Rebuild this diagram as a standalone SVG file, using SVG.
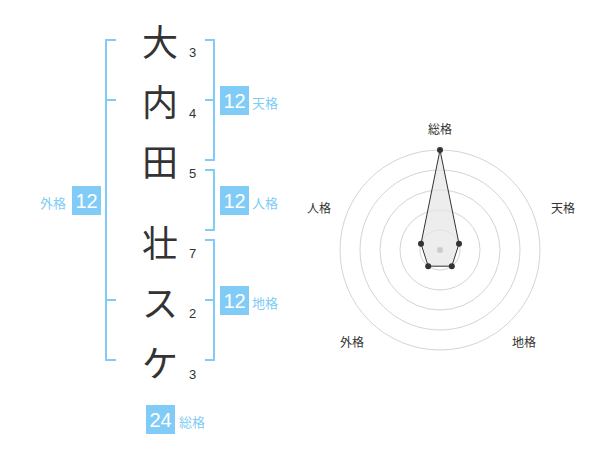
<svg xmlns="http://www.w3.org/2000/svg" width="600" height="470" viewBox="0 0 600 470">
<style>
.ch{font-family:"Noto Sans CJK JP","Noto Sans CJK SC",sans-serif;font-size:36px;fill:#333;text-anchor:middle}
.num{font-family:"Liberation Sans",Arial,sans-serif;font-size:13px;fill:#333}
.br{fill:none;stroke:#80ccf6;stroke-width:2}
.box{fill:#80ccf6}
.bn{font-family:"Liberation Sans",Arial,sans-serif;font-size:20px;fill:#fff;text-anchor:middle}
.bl{font-family:"Noto Sans CJK JP",sans-serif;font-size:13px;fill:#80ccf6}
.ring{fill:none;stroke:#d4d4d4;stroke-width:1}
.rl{font-family:"Noto Sans CJK JP",sans-serif;font-size:12px;fill:#333;text-anchor:middle}
.dot{fill:#333}
</style>
<rect width="600" height="470" fill="#fff"/>
<g id="chars">
<text class="ch" x="160" y="56">大</text>
<text class="ch" x="160" y="116">内</text>
<text class="ch" x="160" y="176">田</text>
<text class="ch" x="160" y="257">壮</text>
<text class="ch" x="160" y="317">ス</text>
<text class="ch" x="160" y="377">ケ</text>
</g>
<g id="numbers">
<text class="num" x="189" y="57">3</text>
<text class="num" x="189" y="118">4</text>
<text class="num" x="189" y="178">5</text>
<text class="num" x="189" y="258">7</text>
<text class="num" x="189" y="318">2</text>
<text class="num" x="189" y="379">3</text>
</g>
<g id="connectors">
<path class="br" d="M116,40 H106 V360 H116 M106,100 H116 M106,300 H116"/>
<path class="br" d="M205,40 H214 V160 H205 M205,100 H214"/>
<path class="br" d="M205,170 H214 V230 H205"/>
<path class="br" d="M205,240 H214 V360 H205 M205,300 H214"/>
</g>
<g id="tenkaku">
<rect class="box" x="220" y="86" width="29" height="29"/>
<text class="bn" x="234.5" y="108">12</text>
<text class="bl" x="252" y="108">天格</text>
</g>
<g id="jinkaku">
<rect class="box" x="220" y="186" width="29" height="29"/>
<text class="bn" x="234.5" y="208">12</text>
<text class="bl" x="252" y="208">人格</text>
</g>
<g id="chikaku">
<rect class="box" x="220" y="286" width="29" height="29"/>
<text class="bn" x="234.5" y="308">12</text>
<text class="bl" x="252" y="308">地格</text>
</g>
<g id="gaikaku">
<rect class="box" x="72" y="186" width="29" height="29"/>
<text class="bn" x="86.5" y="208">12</text>
<text class="bl" x="40" y="208">外格</text>
</g>
<g id="soukaku">
<rect class="box" x="146" y="405" width="29" height="29"/>
<text class="bn" x="160.5" y="427">24</text>
<text class="bl" x="179" y="427">総格</text>
</g>
<g id="radar">
<circle class="ring" cx="440" cy="250" r="20"/>
<circle class="ring" cx="440" cy="250" r="40"/>
<circle class="ring" cx="440" cy="250" r="60"/>
<circle class="ring" cx="440" cy="250" r="80"/>
<circle class="ring" cx="440" cy="250" r="100"/>
<polygon points="440,150 459,243.8 451.8,266.2 428.2,266.2 421,243.8" fill="#e6e6e6" fill-opacity="0.7" stroke="#333" stroke-width="1"/>
<circle cx="440" cy="250" r="3" fill="#ccc"/>
<circle class="dot" cx="440" cy="150" r="3"/>
<circle class="dot" cx="459" cy="243.8" r="3"/>
<circle class="dot" cx="451.8" cy="266.2" r="3"/>
<circle class="dot" cx="428.2" cy="266.2" r="3"/>
<circle class="dot" cx="421" cy="243.8" r="3"/>
<text class="rl" x="440" y="134">総格</text>
<text class="rl" x="563" y="213">天格</text>
<text class="rl" x="524" y="347">地格</text>
<text class="rl" x="352" y="347">外格</text>
<text class="rl" x="319" y="213">人格</text>
</g>
</svg>
